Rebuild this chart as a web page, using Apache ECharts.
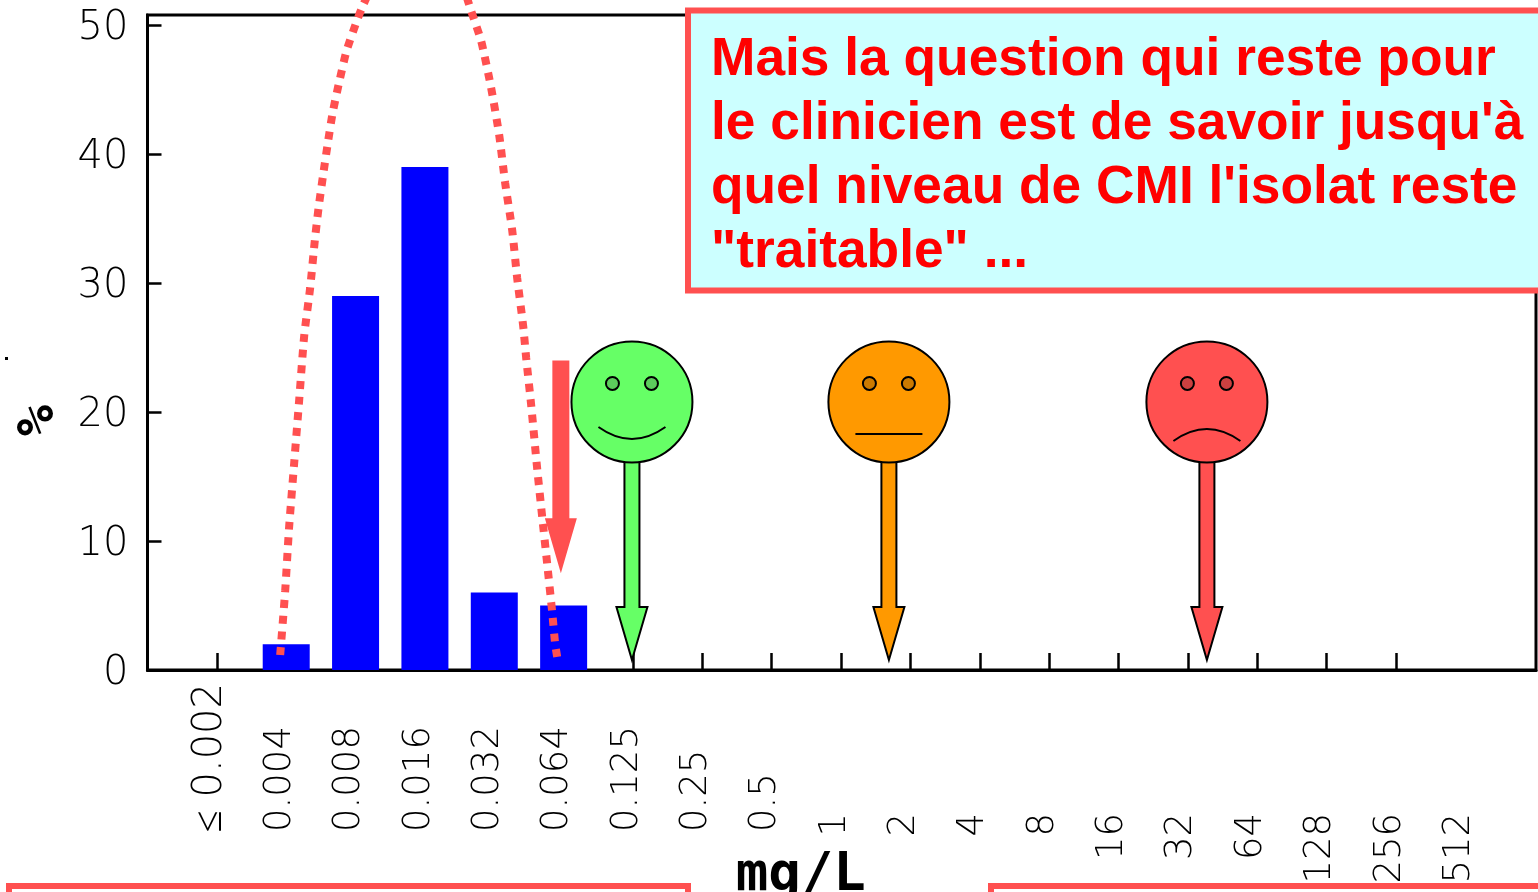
<!DOCTYPE html>
<html><head><meta charset="utf-8">
<style>html,body{margin:0;padding:0;background:#fff}#c{width:1538px;height:892px}</style>
<script src="https://cdn.jsdelivr.net/npm/echarts@6/dist/echarts.min.js"></script>
</head><body><div id="c"></div>
<script>
const mgLabels = ['≤ 0.002','0.004','0.008','0.016','0.032','0.064','0.125','0.25','0.5','1','2','4','8','16','32','64','128','256','512'];
const barPositions = [1,2,3,4,5];
const percentValues = [2,29,39,6,5];
const yTicks = [0,10,20,30,40,50];
const leftCurve = [[0.913,1.16],[0.985,6.12],[1.042,11.09],[1.115,16.05],[1.187,20.93],[1.259,25.89],[1.345,29.61],[1.413,33.33],[1.465,35.76],[1.528,38.22],[1.595,40.67],[1.667,43.12],[1.763,45.56],[1.869,47.98],[2.019,50.33],[2.105,51.5],[2.196,52.56]];
const rightCurve = [[4.907,1.01],[4.878,2.01],[4.835,4.5],[4.763,8.22],[4.691,11.86],[4.619,15.59],[4.532,20.54],[4.46,24.19],[4.417,26.66],[4.33,30.39],[4.258,34.11],[4.157,37.75],[4.071,41.47],[3.955,45.12],[3.811,48.76],[3.667,51.09],[3.58,52.56]];
// smiley pin: x position on the MIC scale, tip height in %, mood
const smileyX = [5.985,9.69,14.275];
const smileyTip = [0.78,0.78,0.78];
const smileyMood = [1,0,-1];
const smileyFill = ['#66ff66','#ff9900','#ff5050'];
const smileyEye = ['#5ccc5c','#cc7a00','#cc4040'];
const cutoffArrow = [4.96,24.0,7.5]; // x, top %, tip %
const calloutLines = ["Mais la question qui reste pour","le clinicien est de savoir jusqu'à","quel niveau de CMI l'isolat reste","\"traitable\" ..."];

const mono = '"DejaVu Sans Mono"';
const sans = '"DejaVu Sans"';
const RED = '#ff5050';
const labelTicks = mgLabels.map((_,i)=>i);
const markTicks = labelTicks.slice(0,18);
const chart = echarts.init(document.getElementById('c'),null,{renderer:'canvas'});

// decimals start at a common line below the axis, integers end at a common line
const measure = document.createElement('canvas').getContext('2d');
const labelRich = {};
mgLabels.forEach((s,i)=>{
  const size = i===0 ? 40 : 37;
  measure.font = '200 '+size+'px "DejaVu Sans"';
  const decimal = s.indexOf('0.')>=0;
  const w = measure.measureText(s).width;
  const right = decimal ? Math.max(0,149-w) : 130;
  labelRich['t'+i] = {fontFamily:sans,fontWeight:200,fontSize:size,color:'#000',padding:[0,right,12,0]};
});

function renderSmiley(params, api){
  const i = params.dataIndex;
  const tip = api.coord([api.value(0), api.value(1)]);
  const x = tip[0], y = tip[1];
  const fill = smileyFill[i], eye = smileyEye[i], mood = smileyMood[i];
  const stroke = {stroke:'#000',lineWidth:2};
  const cy = y - 258;
  const mouthY = mood===1 ? cy+25 : mood===0 ? cy+32 : cy+39;
  const ctrlY = mood===1 ? cy+49 : mood===0 ? cy+32 : cy+15;
  return {type:'group',children:[
    {type:'polygon',shape:{points:[[x-7.5,cy+58],[x+7.5,cy+58],[x+7.5,y-53],[x+15.5,y-53],[x,y],[x-15.5,y-53],[x-7.5,y-53]]},style:{fill,...stroke}},
    {type:'circle',shape:{cx:x,cy,r:60.5},style:{fill,...stroke}},
    {type:'circle',shape:{cx:x-19.5,cy:cy-18.5,r:6.5},style:{fill:eye,...stroke}},
    {type:'circle',shape:{cx:x+19.5,cy:cy-18.5,r:6.5},style:{fill:eye,...stroke}},
    {type:'path',shape:{pathData:`M${x-33.5} ${mouthY}Q${x} ${ctrlY} ${x+33.5} ${mouthY}`},style:{fill:'none',...stroke}}
  ]};
}
function renderCutoff(params, api){
  const a = api.coord([api.value(0), api.value(1)]);
  const b = api.coord([api.value(0), api.value(2)]);
  const x=a[0], top=a[1], tip=b[1];
  return {type:'polygon',shape:{points:[[x-8.5,top],[x+8.5,top],[x+8.5,tip-55],[x+16,tip-55],[x,tip],[x-16,tip-55],[x-8.5,tip-55]]},style:{fill:RED}};
}
const curveSeries = c => ({type:'line',data:c,showSymbol:false,symbol:'none',clip:false,smooth:0.2,silent:true,z:4,
  lineStyle:{color:RED,width:8,type:[8,7.7],cap:'butt'}});

chart.setOption({
  animation:false,
  backgroundColor:'#fff',
  grid:{left:147.5,top:15,width:1388.5,height:655,show:true,borderColor:'#000',borderWidth:3,backgroundColor:'#fff',outerBoundsMode:'none',containLabel:false},
  xAxis:{type:'value',min:-1,max:19.02,interval:1,splitLine:{show:false},
    name:'mg/L',nameLocation:'middle',nameGap:179,nameMoveOverlap:false,
    nameTextStyle:{fontFamily:mono,fontWeight:'bold',fontSize:54,color:'#000',padding:[0,82,0,0]},
    axisLine:{show:true,onZero:false,lineStyle:{color:'#000',width:3}},
    axisTick:{show:true,inside:true,length:17,lineStyle:{color:'#000',width:2.5},customValues:markTicks},
    axisLabel:{show:true,rotate:90,margin:13,color:'#000',customValues:labelTicks,rich:labelRich,
      formatter:v=>{const i=Math.round(v);return '{t'+i+'|'+mgLabels[i]+'}';}}},
  yAxis:{type:'value',min:0,max:50.78,interval:10,splitLine:{show:false},
    name:'%',nameLocation:'middle',nameGap:82,nameRotate:90,nameMoveOverlap:false,
    nameTextStyle:{fontFamily:mono,fontWeight:'bold',fontSize:52,color:'#000',padding:[0,156,0,0]},
    axisLine:{show:true,onZero:false,lineStyle:{color:'#000',width:3}},
    axisTick:{show:true,inside:true,length:14,lineStyle:{color:'#000',width:2.5},customValues:yTicks},
    axisLabel:{show:true,margin:19,color:'#000',customValues:yTicks,
      rich:{a:{fontFamily:sans,fontWeight:200,fontSize:40,color:'#000',padding:[8,0,0,0]}},
      formatter:v=>'{a|'+v+'}'}},
  series:[
    {type:'bar',data:barPositions.map((x,i)=>[x,percentValues[i]]),barWidth:47,itemStyle:{color:'#0000ff'},z:2},
    curveSeries(leftCurve),
    curveSeries(rightCurve),
    {type:'custom',coordinateSystem:'cartesian2d',data:smileyX.map((x,i)=>[x,smileyTip[i]]),renderItem:renderSmiley,clip:false,silent:true,z:5},
    {type:'custom',coordinateSystem:'cartesian2d',data:[cutoffArrow],renderItem:renderCutoff,encode:{x:0,y:[1,2]},clip:false,silent:true,z:3}
  ],
  graphic:[
    {type:'rect',z:100,shape:{x:688,y:10.5,width:900,height:280},style:{fill:'#ccffff',stroke:RED,lineWidth:6}},
    ...calloutLines.map((t,i)=>({type:'text',z:101,x:711,y:60+i*64.2,style:{text:t,fill:'#ff0000',font:'bold 53.3px "Liberation Sans"',verticalAlign:'middle'}})),
    {type:'rect',z:100,shape:{x:9,y:886,width:679,height:40},style:{fill:'#fff',stroke:RED,lineWidth:6}},
    {type:'rect',z:100,shape:{x:991,y:886,width:700,height:40},style:{fill:'#fff',stroke:RED,lineWidth:6}},
    {type:'rect',z:100,shape:{x:5,y:357,width:3,height:3},style:{fill:'#000'}}
  ]
});
</script></body></html>
